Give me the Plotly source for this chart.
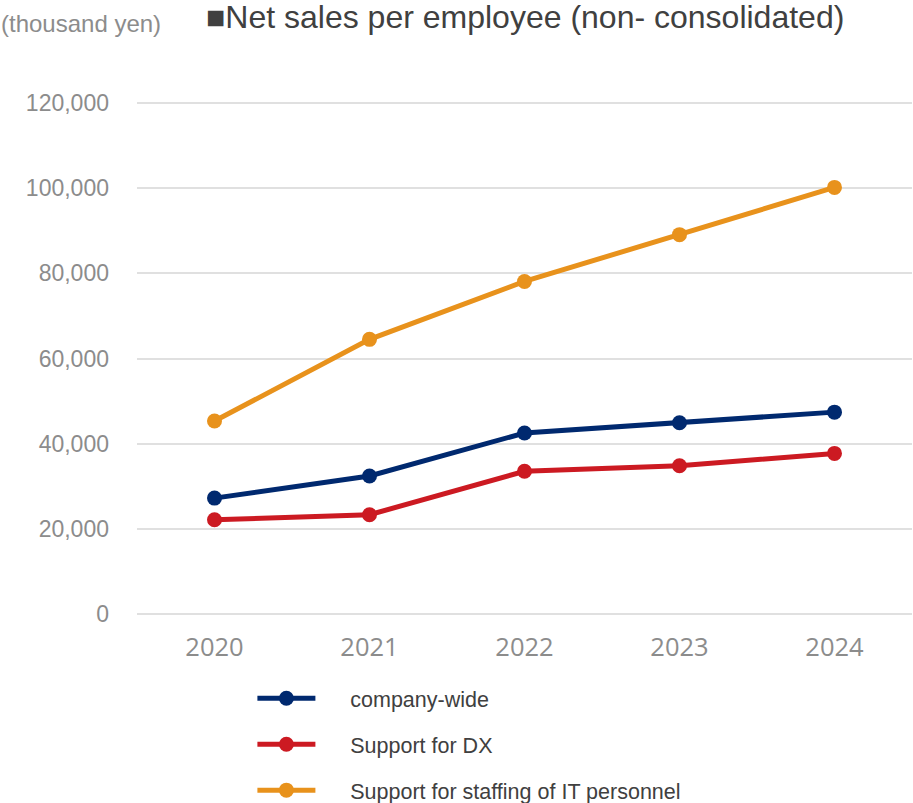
import plotly.graph_objects as go

years = ["2020", "2021", "2022", "2023", "2024"]
company_wide = [27200, 32400, 42500, 44900, 47400]
support_dx = [22100, 23300, 33500, 34800, 37700]
support_it = [45300, 64500, 78100, 89100, 100200]
series_names = ["company-wide", "Support for DX", "Support for staffing of IT personnel"]
series_colors = ["#00296f", "#cc1a22", "#e8921c"]
y_ticks = [0, 20000, 40000, 60000, 80000, 100000, 120000]

PAD = "\u00a0" * 5

fig = go.Figure()
for name, vals, col in zip(series_names, [company_wide, support_dx, support_it], series_colors):
    fig.add_trace(go.Scatter(
        x=years, y=vals, name=PAD + name, mode="lines+markers",
        line=dict(color=col, width=5),
        marker=dict(color=col, size=15),
        legendgroup=name,
    ))

L, T, B = 137, 101, 187
PW, PH = 775, 803 - T - B

fig.update_layout(
    width=913, height=803,
    paper_bgcolor="white", plot_bgcolor="white",
    margin=dict(l=L, r=1, t=T, b=B, autoexpand=False),
    showlegend=True,
    hovermode=False,
    legend=dict(
        x=(252.4 - L) / PW, y=-0.120, xanchor="left", yanchor="top",
        orientation="v", traceorder="grouped",
        font=dict(family="Liberation Sans, Arial, sans-serif", size=21.5, color="#404040"),
        itemwidth=58, tracegroupgap=15,
        bgcolor="rgba(0,0,0,0)",
    ),
    xaxis=dict(
        type="category", range=[-0.5, 4.5],
        showgrid=False, showline=False, zeroline=False,
        tickfont=dict(family="Open Sans, sans-serif", size=25.5, color="#8c8c8c"),
        ticklabelstandoff=13,
    ),
    yaxis=dict(
        range=[-500, 120500], tickvals=y_ticks, tickformat=",",
        showgrid=True, gridcolor="#e0e0e0", gridwidth=2,
        zeroline=False, showline=False,
        tickfont=dict(family="Liberation Sans, Arial, sans-serif", size=23, color="#8c8c8c"),
        ticklabelstandoff=27,
    ),
)
fig.add_annotation(
    text="■Net sales per employee (non- consolidated)",
    xref="paper", yref="paper", x=(204 - L) / PW, y=1 + (T - 17) / PH,
    xanchor="left", yanchor="middle", showarrow=False,
    font=dict(family="Liberation Sans, Arial, sans-serif", size=32, color="#404040"),
)
fig.add_annotation(
    text="(thousand yen)",
    xref="paper", yref="paper", x=(-1 - L) / PW, y=1 + (T - 23) / PH,
    xanchor="left", yanchor="middle", showarrow=False,
    font=dict(family="Liberation Sans, Arial, sans-serif", size=24, color="#8c8c8c"),
)

fig.write_html("out.html", config={"displayModeBar": False},
               post_script="document.body.style.margin='0';")
